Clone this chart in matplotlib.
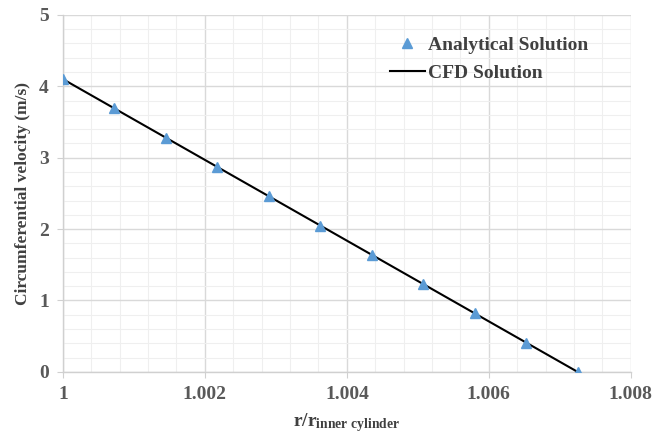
import matplotlib.pyplot as plt
from matplotlib.ticker import MultipleLocator

# data
r_ratio = [1.0, 1.000725, 1.00145, 1.002175, 1.0029, 1.003625,
           1.00435, 1.005075, 1.0058, 1.006525, 1.00725]
v_analytical = [4.10, 3.69, 3.28, 2.87, 2.46, 2.05, 1.64, 1.23, 0.82, 0.41, 0.0]
v_cfd = [4.10, 3.69, 3.28, 2.87, 2.46, 2.05, 1.64, 1.23, 0.82, 0.41, 0.0]
xticks = [1.0, 1.002, 1.004, 1.006, 1.008]
xtick_labels = ['1', '1.002', '1.004', '1.006', '1.008']
yticks = [0, 1, 2, 3, 4, 5]

plt.rcParams['font.family'] = ['Liberation Serif', 'DejaVu Serif']
plt.rcParams['mathtext.fontset'] = 'custom'
plt.rcParams['mathtext.rm'] = 'Liberation Serif:bold'
plt.rcParams['mathtext.it'] = 'Liberation Serif:bold'

fig = plt.figure(figsize=(6.69, 4.37), dpi=100)
ax = fig.add_axes([0.094, 0.149, 0.849, 0.817])

ax.plot(r_ratio, v_cfd, color='black', lw=1.5, label='CFD Solution', zorder=3)
ax.plot(r_ratio, v_analytical, ls='none', marker='^', ms=7.5, color='#5b9bd5',
        label='Analytical Solution', zorder=4)

ax.set_xlim(1.0, 1.008)
ax.set_ylim(0, 5)
ax.set_xticks(xticks)
ax.set_xticklabels(xtick_labels)
ax.set_yticks(yticks)
ax.xaxis.set_minor_locator(MultipleLocator(0.0004))
ax.yaxis.set_minor_locator(MultipleLocator(0.2))

ax.grid(which='major', color='#d9d9d9', lw=1.0)
ax.grid(which='minor', color='#efefef', lw=0.8)
ax.set_axisbelow(True)

for s in ['top', 'right']:
    ax.spines[s].set_visible(False)
for s in ['left', 'bottom']:
    ax.spines[s].set_color('#d0d0d0')
    ax.spines[s].set_linewidth(1.0)

ax.tick_params(which='major', length=4, color='#d0d0d0', labelsize=14,
               labelcolor='#595959', pad=6)
ax.tick_params(which='minor', length=0)
for lab in ax.get_xticklabels() + ax.get_yticklabels():
    lab.set_fontweight('bold')

ax.set_xlabel(r'r/r$_{\mathregular{inner\ cylinder}}$', fontsize=14,
              fontweight='bold', color='#404040', labelpad=6)
ax.set_ylabel('Circumferential velocity (m/s)', fontsize=12.5,
              fontweight='bold', color='#404040', labelpad=6)

handles, labels = ax.get_legend_handles_labels()
leg = ax.legend(handles[::-1], labels[::-1], loc='upper left',
                bbox_to_anchor=(0.545, 0.99), frameon=False,
                prop={'weight': 'bold', 'size': 14}, handlelength=1.8,
                handletextpad=0.15, labelspacing=0.55)
for t in leg.get_texts():
    t.set_color('#404040')

plt.savefig('out.png', dpi=100)
